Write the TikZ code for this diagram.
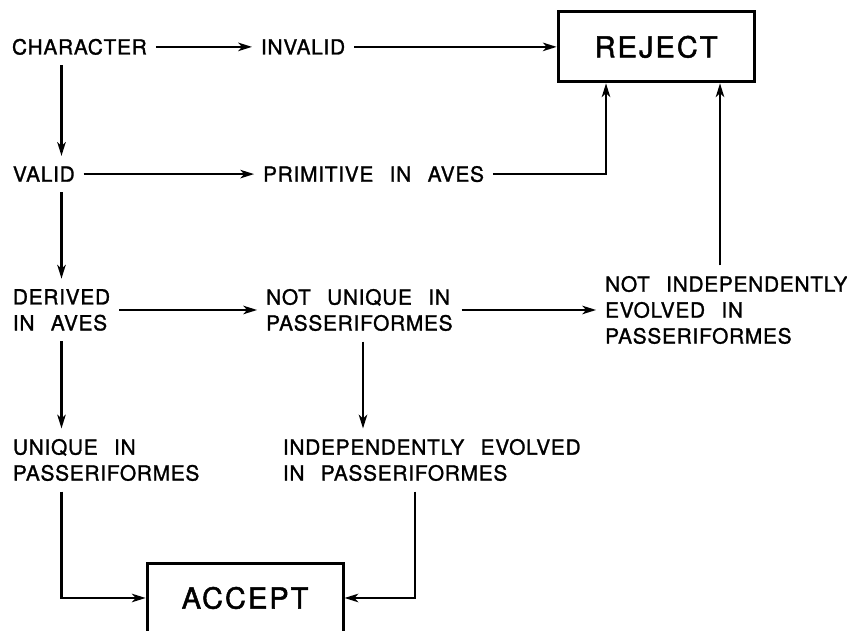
\documentclass[tikz,border=0pt]{standalone}
\usepackage{fontspec}
\setmainfont{TeX Gyre Heros}[LetterSpace=3.5,WordSpace=2.5,FakeBold=1.3]
\newfontfamily\boxfont{TeX Gyre Heros}[LetterSpace=7,FakeBold=1.6]
\usetikzlibrary{arrows.meta}
\begin{document}
\begin{tikzpicture}[>={Stealth[length=13pt,width=8pt,inset=3.5pt]},line width=2.1pt,
	font=\fontsize{19.8}{24.6}\selectfont,
	txt/.style={anchor=west,align=left,inner xsep=7.5pt,inner ysep=9pt},
	box/.style={draw,line width=2.8pt,minimum width=6.53cm,minimum height=2.33cm,
		font=\fontsize{27.5}{30}\selectfont\boxfont}]
		\useasboundingbox (0,0) rectangle (28.233,21.033);
		% first and second rows
		\node[txt] (char) at (0.1,19.47) {CHARACTER};
		\node[txt] (inv) at (8.4,19.47) {INVALID};
		\node[box] (rej) at (21.87,19.47) {REJECT};
		\node[txt] (valid) at (0.13,15.23) {VALID};
		\node[txt] (prim) at (8.47,15.23) {PRIMITIVE IN AVES};
		% third and fourth rows
		\node[txt] (der) at (0.13,10.7) {DERIVED\\IN AVES};
		\node[txt] (nu) at (8.57,10.7) {NOT UNIQUE IN\\PASSERIFORMES};
		\node[txt] (ni) at (19.87,10.7) {NOT INDEPENDENTLY\\EVOLVED IN\\PASSERIFORMES};
		\node[txt] (uni) at (0.13,5.7) {UNIQUE IN\\PASSERIFORMES};
		\node[txt] (ie) at (9.13,5.7) {INDEPENDENTLY EVOLVED\\IN PASSERIFORMES};
		\node[box] (acc) at (8.17,1.1) {ACCEPT};
		% connectors
		\draw[->] (char) -- (inv);
		\draw[->] (inv) -- (rej);
		\draw[->] (char.south -| 2.05,0) -- (valid.north -| 2.05,0);
		\draw[->] (valid) -- (prim);
		\draw[->] (prim.east) -| (rej.south -| 20.2,0);
		\draw[->] (valid.south -| 2.05,0) -- (der.north -| 2.05,0);
		\draw[->] (der) -- (nu);
		\draw[->] (nu) -- (ni);
		\draw[->] (ni.north -| 24,0) -- (rej.south -| 24,0);
		\draw[->] (der.south -| 2.05,0) -- (uni.north -| 2.05,0);
		\draw[->] (nu.south -| 12.1,0) -- (ie.north -| 12.1,0);
		\draw[->] (uni.south -| 2.05,0) |- (acc.west);
		\draw[->] (ie.south -| 13.83,0) |- (acc.east);
\end{tikzpicture}
\end{document}
